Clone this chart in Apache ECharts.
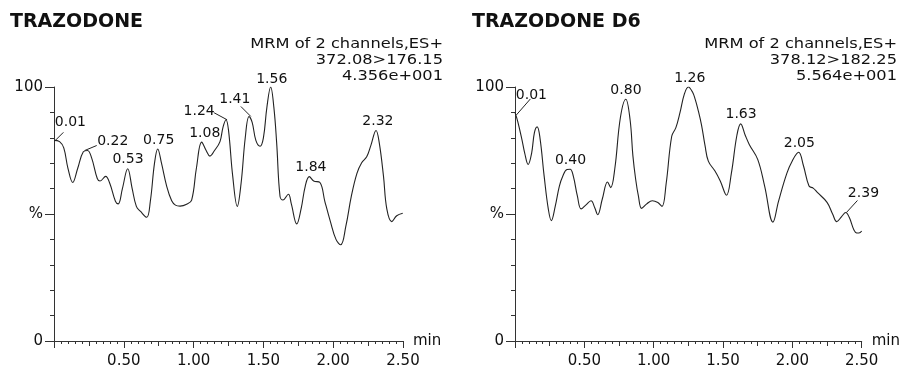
<!DOCTYPE html>
<html>
<head>
<meta charset="utf-8">
<script src="https://cdn.jsdelivr.net/npm/echarts@6/dist/echarts.min.js"></script>
<style>
  html, body { margin: 0; padding: 0; background: #fff; }
  #chart { width: 903px; height: 369px; }
</style>
</head>
<body>
<div id="chart"></div>
<script>
// TRAZODONE trace (min, %)
const leftTimes = [0.00, 0.04, 0.07, 0.10, 0.134, 0.17, 0.21, 0.24, 0.27, 0.31, 0.33, 0.37, 0.40, 0.44, 0.46, 0.49, 0.528, 0.56, 0.59, 0.62, 0.664, 0.69, 0.72, 0.743, 0.77, 0.807, 0.843, 0.87, 0.903, 0.95, 0.986, 1.02, 1.058, 1.09, 1.117, 1.15, 1.189, 1.21, 1.232, 1.25, 1.28, 1.313, 1.34, 1.37, 1.397, 1.42, 1.446, 1.476, 1.50, 1.525, 1.552, 1.575, 1.595, 1.619, 1.64, 1.679, 1.70, 1.739, 1.77, 1.80, 1.829, 1.86, 1.905, 1.94, 1.98, 2.02, 2.054, 2.09, 2.13, 2.17, 2.204, 2.24, 2.27, 2.307, 2.33, 2.36, 2.384, 2.419, 2.455, 2.498];
const leftValues = [79, 78.5, 76, 68, 62.4, 68, 74.5, 75, 72, 64, 63, 64.8, 62, 55, 54, 60, 67.8, 60, 53, 51, 48.7, 55, 70, 75.6, 70, 61, 55.2, 53.5, 53.1, 53.8, 55.5, 68, 78.3, 75, 72.8, 75, 78.5, 84, 87.1, 83, 65, 53, 62, 80, 88.4, 86, 79, 76.7, 80, 92, 100, 92, 78, 57, 55.5, 57.8, 54, 46.1, 52, 61, 64.7, 63, 62.4, 55, 47, 40, 37.9, 45, 57, 66, 70.2, 72.5, 77, 82.9, 78, 65, 52, 47, 49.3, 50.3];
const leftPeakTimes = [0.01, 0.22, 0.53, 0.75, 1.08, 1.24, 1.41, 1.56, 1.84, 2.32];
const leftPeakValues = [79, 75, 67.8, 75.6, 78.3, 87.1, 88.4, 100, 64.7, 82.9];

// TRAZODONE D6 trace (min, %)
const rightTimes = [0.00, 0.02, 0.05, 0.07, 0.095, 0.12, 0.14, 0.16, 0.18, 0.21, 0.24, 0.262, 0.29, 0.32, 0.345, 0.375, 0.398, 0.42, 0.45, 0.477, 0.51, 0.548, 0.575, 0.596, 0.63, 0.667, 0.69, 0.72, 0.76, 0.799, 0.83, 0.85, 0.87, 0.89, 0.913, 0.95, 0.99, 1.03, 1.06, 1.09, 1.13, 1.16, 1.19, 1.22, 1.25, 1.28, 1.30, 1.32, 1.345, 1.37, 1.394, 1.442, 1.48, 1.525, 1.56, 1.60, 1.627, 1.66, 1.69, 1.75, 1.80, 1.86, 1.90, 1.96, 2.00, 2.045, 2.08, 2.12, 2.15, 2.18, 2.25, 2.29, 2.32, 2.355, 2.385, 2.41, 2.455, 2.48, 2.50];
const rightValues = [90, 86.4, 79.3, 74, 69.5, 74, 82, 84.3, 80, 65, 52, 47.4, 53, 61, 65, 67.5, 67.6, 65, 57, 52, 53.5, 55.2, 52.5, 49.7, 56, 62.6, 60.4, 68, 88, 95.2, 87, 73, 63.7, 57, 52.2, 54, 55.2, 54.5, 53, 62, 80.6, 84, 90, 97, 100, 98, 95, 91, 85, 77, 70.8, 66.9, 63, 57.4, 66, 81, 85.5, 81, 77.3, 71.5, 61, 46.8, 55, 66, 71, 74.3, 69, 61, 60.2, 58.5, 54.6, 50, 47, 49, 50.6, 48.7, 42.8, 42.5, 43.3];
const rightPeakTimes = [0.01, 0.40, 0.80, 1.26, 1.63, 2.05, 2.39];
const rightPeakValues = [89, 67.6, 95.2, 100, 85.5, 74.3, 50.6];

const titles = ['TRAZODONE', 'TRAZODONE D6'];
const headers = [
  ['MRM of 2 channels,ES+', '372.08>176.15', '4.356e+001'],
  ['MRM of 2 channels,ES+', '378.12>182.25', '5.564e+001']
];
const yTickLabels = { 0: '0', 50: '%', 100: '100' };

// peak label placement in px relative to the peak: label centre and leader line end
const labelAbove = [0, -9];
const leftLeaders = {
  0.01: { label: [15, -18], line: [8, -8] },
  0.22: { label: [28, -9], line: [12, -5] },
  1.24: { label: [-28, -8], line: [-13, -7] },
  1.41: { label: [-16, -17], line: [-10, -10] },
  1.56: { label: [0, -8], line: null }
};
const rightLeaders = {
  0.01: { label: [15, -20], line: [14, -16] },
  2.39: { label: [17, -19], line: [11, -12] }
};

const FONT = 'DejaVu Sans';
const INK = '#111';
const gridLefts = [54, 515];

const chart = echarts.init(document.getElementById('chart'));

function pairs(ts, vs) {
  return ts.map((t, i) => [t, vs[i]]);
}

const xAxes = [];
const yAxes = [];
gridLefts.forEach((l, g) => {
  xAxes.push({
    type: 'value', gridIndex: g, min: 0, max: 2.5, interval: 0.5, position: 'bottom',
    name: 'min', nameLocation: 'end', nameGap: 10,
    nameTextStyle: { fontFamily: FONT, fontSize: 15, color: INK },
    axisLine: { lineStyle: { color: '#333', width: 1 } },
    axisTick: { show: true, length: 7, lineStyle: { color: '#333' } },
    minorTick: { show: true, splitNumber: 10, length: 3, lineStyle: { color: '#333' } },
    splitLine: { show: false },
    axisLabel: {
      fontFamily: FONT, fontSize: 15, color: INK, margin: 13,
      showMinLabel: true, showMaxLabel: true,
      formatter: v => (v === 0 ? '' : v.toFixed(2))
    }
  });
  // medium ticks every 0.25 min
  xAxes.push({
    type: 'value', gridIndex: g, min: 0, max: 2.5, interval: 0.25, position: 'bottom',
    axisLine: { show: false },
    axisTick: { show: true, length: 5, lineStyle: { color: '#333' } },
    axisLabel: { show: false },
    splitLine: { show: false }
  });
  yAxes.push({
    type: 'value', gridIndex: g, min: 0, max: 100, interval: 50,
    axisLine: { show: true, lineStyle: { color: '#333', width: 1 } },
    axisTick: { show: true, length: 9, lineStyle: { color: '#333' } },
    minorTick: { show: true, splitNumber: 5, length: 4, lineStyle: { color: '#333' } },
    splitLine: { show: false },
    axisLabel: {
      fontFamily: FONT, fontSize: 15, color: INK, margin: 11,
      showMinLabel: true, showMaxLabel: true,
      formatter: v => yTickLabels[v] || ''
    }
  });
});

function traceSeries(g, data) {
  return {
    type: 'line', xAxisIndex: g * 2, yAxisIndex: g, data: data,
    smooth: 0.4, symbol: 'none', silent: true,
    lineStyle: { color: '#222', width: 1.1 }
  };
}

// peak time labels, with leader lines where the label sits off the peak
function peakSeries(g, data, leaders) {
  return {
    type: 'custom', xAxisIndex: g * 2, yAxisIndex: g, data: data, silent: true,
    encode: { x: 0, y: 1 },
    renderItem: (params, api) => {
      const t = api.value(0);
      const p = api.coord([t, api.value(1)]);
      const lead = leaders[t.toFixed(2)] || leaders[t];
      const off = lead ? lead.label : labelAbove;
      const children = [{
        type: 'text', x: p[0] + off[0], y: p[1] + off[1],
        style: {
          text: t.toFixed(2), font: '14px "DejaVu Sans"', fill: INK,
          textAlign: 'center', textVerticalAlign: 'middle'
        }
      }];
      if (lead && lead.line) {
        children.push({
          type: 'line',
          shape: { x1: p[0], y1: p[1], x2: p[0] + lead.line[0], y2: p[1] + lead.line[1] },
          style: { stroke: '#222', lineWidth: 1 }
        });
      }
      return { type: 'group', children: children };
    }
  };
}

const graphics = [];
titles.forEach((t, g) => {
  graphics.push({
    type: 'text', x: [10, 472][g], y: 13,
    style: { text: t, font: 'bold 19px "DejaVu Sans"', fill: '#111', textVerticalAlign: 'top' }
  });
  // header block: slightly wide, tightly spaced text (scaled about its right edge)
  graphics.push({
    type: 'text', x: [443, 897][g], y: 36, scaleX: 1.12, originX: 0, originY: 0,
    style: {
      text: headers[g].join('\n'), font: '14.5px "DejaVu Sans"', fill: INK,
      textAlign: 'right', textVerticalAlign: 'top', lineHeight: 16
    }
  });
});

const option = {
  animation: false,
  grid: gridLefts.map(l => ({ left: l, top: 87, width: 349, height: 256 })),
  xAxis: xAxes,
  yAxis: yAxes,
  graphic: graphics,
  series: [
    traceSeries(0, pairs(leftTimes, leftValues)),
    traceSeries(1, pairs(rightTimes, rightValues)),
    peakSeries(0, pairs(leftPeakTimes, leftPeakValues), leftLeaders),
    peakSeries(1, pairs(rightPeakTimes, rightPeakValues), rightLeaders)
  ]
};

chart.setOption(option);
</script>
</body>
</html>
